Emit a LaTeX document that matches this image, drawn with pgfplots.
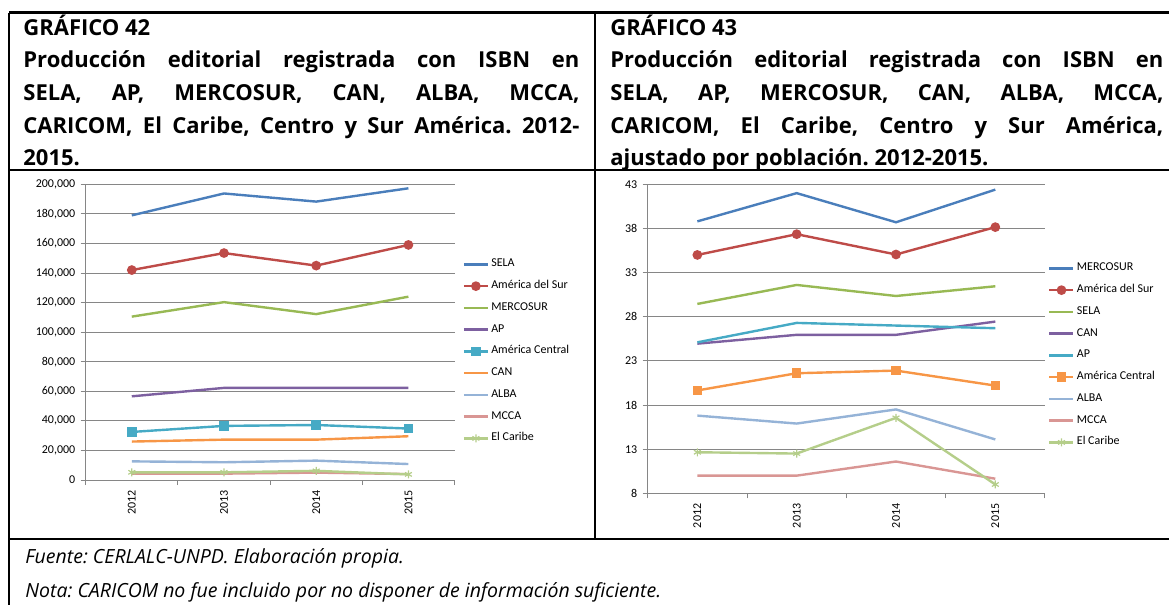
\documentclass[border=0pt]{standalone}
\usepackage{pgfplots}
\pgfplotsset{compat=1.18}
\usepackage{fontspec}
\setmainfont{Carlito}
\newfontfamily\ttl{Open Sans}
\frenchspacing
\definecolor{c1}{HTML}{4A7EBB}
\definecolor{c2}{HTML}{BE4B48}
\definecolor{c3}{HTML}{98B954}
\definecolor{c4}{HTML}{7D60A0}
\definecolor{c5}{HTML}{46AAC5}
\definecolor{c6}{HTML}{F79646}
\definecolor{c7}{HTML}{95B3D7}
\definecolor{c8}{HTML}{D99694}
\definecolor{c9}{HTML}{B5CE8A}
\definecolor{axgray}{HTML}{868686}

\pgfplotsset{
 excel/.style={
  scale only axis,
  axis lines*=left,
  axis line style={draw=axgray, line width=0.5pt},
  ymajorgrids, grid style={draw=axgray, line width=0.5pt},
  tick align=outside, major tick length=2.5pt,
  tick style={draw=axgray, line width=0.5pt},
  xmin=0.5, xmax=4.5,
  xtick={0.5,1.5,2.5,3.5,4.5}, xticklabels={,,,,},
  extra x ticks={1,2,3,4}, extra x tick labels={2012,2013,2014,2015},
  extra x tick style={major tick length=0pt},
  xticklabel style={rotate=90, anchor=east, inner sep=0pt},
  xticklabel shift=5pt,
  yticklabel style={inner sep=0pt},
  /pgf/number format/assume math mode=true,
  tick label style={font=\fontsize{6}{7}\selectfont},
  every axis plot/.append style={line width=1.2pt},
  legend cell align=left,
  legend image code/.code={\draw[mark repeat=2,mark phase=2,#1] plot coordinates {(0pt,0pt) (6pt,0pt) (12pt,0pt)};},
  legend style={draw=none, fill=none, inner sep=0pt, outer sep=0pt,
   font=\fontsize{6}{7}\selectfont, row sep=3.375pt,
   nodes={inner sep=0pt, text height=5pt, text depth=2.5pt},
   /tikz/every odd column/.append style={column sep=1.1pt}},
 },
}

\begin{document}
\begin{tikzpicture}
\begin{scope}[x=0.5pt, y=-0.5pt]
\useasboundingbox (0,0) rectangle (1169,605);
% table frame
\draw[line width=1.25pt] (9,12.7) -- (1169,12.7);
\draw[line width=1.25pt] (9,170) -- (1169,170);
\draw[line width=1.25pt] (9,539) -- (1169,539);
\draw[line width=1.25pt] (9,12.7) -- (9,605);
\draw[line width=1.25pt] (595,12.7) -- (595,539);
% titles
\begin{scope}[every node/.style={anchor=base west, inner sep=0pt, font=\ttl\bfseries\fontsize{11}{13}\selectfont}]
\node at (23,35) {GRÁFICO 42};
\node at (23,68) {\makebox[278pt][s]{Producción editorial registrada con ISBN en}};
\node at (23,100) {\makebox[278pt][s]{SELA, AP, MERCOSUR, CAN, ALBA, MCCA,}};
\node at (23,133) {\makebox[278pt][s]{CARICOM, El Caribe, Centro y Sur América. 2012-}};
\node at (23,165) {2015.};
\node at (610,35) {GRÁFICO 43};
\node at (610,68) {\makebox[276.5pt][s]{Producción editorial registrada con ISBN en}};
\node at (610,100) {\makebox[276.5pt][s]{SELA, AP, MERCOSUR, CAN, ALBA, MCCA,}};
\node at (610,133) {\makebox[276.5pt][s]{CARICOM, El Caribe, Centro y Sur América,}};
\node at (610,165) {ajustado por población. 2012-2015.};
\end{scope}
% notes
\begin{scope}[every node/.style={anchor=base west, inner sep=0pt, font=\ttl\itshape\fontsize{9.75}{12}\selectfont}]
\node at (25,563) {Fuente: CERLALC-UNPD. Elaboración propia.};
\node at (25,597) {Nota: CARICOM no fue incluido por no disponer de información suficiente.};
\end{scope}
\end{scope}

% Grafico 42
\begin{axis}[excel,
 at={(42.85pt,-240pt)}, anchor=south west,
 width=184.4pt, height=147.85pt,
 ymin=0, ymax=200000, ytick={0,20000,...,200000},
 scaled y ticks=false, yticklabel shift=2.5pt,
 yticklabel style={/pgf/number format/.cd, fixed, 1000 sep={,}},
 legend style={at={(1,1)}, anchor=north west, xshift=4.1pt, yshift=-36.3pt},
]
\addplot[c1, mark=none] coordinates {(1,179000) (2,193800) (3,188300) (4,197300)};
\addlegendentry{SELA}
\addplot[c2, mark=*, mark size=1.8pt, mark options={fill=c2}] coordinates {(1,142000) (2,153500) (3,145000) (4,159000)};
\addlegendentry{América del Sur}
\addplot[c3, mark=none] coordinates {(1,110500) (2,120300) (3,112200) (4,124000)};
\addlegendentry{MERCOSUR}
\addplot[c4, mark=none] coordinates {(1,56600) (2,62300) (3,62300) (4,62300)};
\addlegendentry{AP}
\addplot[c5, mark=square*, mark size=1.8pt, mark options={fill=c5}] coordinates {(1,32500) (2,36600) (3,37200) (4,34800)};
\addlegendentry{América Central}
\addplot[c6, mark=none] coordinates {(1,26000) (2,27300) (3,27300) (4,29600)};
\addlegendentry{CAN}
\addplot[c7, mark=none] coordinates {(1,12600) (2,12000) (3,13100) (4,10800)};
\addlegendentry{ALBA}
\addplot[c8, mark=none] coordinates {(1,4300) (2,4300) (3,5000) (4,4000)};
\addlegendentry{MCCA}
\addplot[c9, mark=asterisk, mark size=2pt, mark options={line width=0.6pt}] coordinates {(1,5200) (2,5200) (3,6200) (4,3800)};
\addlegendentry{El Caribe}
\end{axis}

% Grafico 43
\begin{axis}[excel,
 at={(323.85pt,-246.65pt)}, anchor=south west,
 width=198.65pt, height=154.5pt,
 ymin=8, ymax=43, ytick={8,13,...,43}, yticklabel shift=2.5pt,
 legend style={at={(1,1)}, anchor=north west, xshift=1.65pt, yshift=-38.3pt},
]
\addplot[c1, mark=none] coordinates {(1,38.8) (2,42.0) (3,38.7) (4,42.4)};
\addlegendentry{MERCOSUR}
\addplot[c2, mark=*, mark size=1.8pt, mark options={fill=c2}] coordinates {(1,35.0) (2,37.35) (3,35.05) (4,38.15)};
\addlegendentry{América del Sur}
\addplot[c3, mark=none] coordinates {(1,29.45) (2,31.6) (3,30.35) (4,31.45)};
\addlegendentry{SELA}
\addplot[c4, mark=none] coordinates {(1,24.95) (2,25.95) (3,25.95) (4,27.45)};
\addlegendentry{CAN}
\addplot[c5, mark=none] coordinates {(1,25.1) (2,27.3) (3,27.0) (4,26.7)};
\addlegendentry{AP}
\addplot[c6, mark=square*, mark size=1.8pt, mark options={fill=c6}] coordinates {(1,19.65) (2,21.6) (3,21.9) (4,20.2)};
\addlegendentry{América Central}
\addplot[c7, mark=none] coordinates {(1,16.8) (2,15.9) (3,17.5) (4,14.1)};
\addlegendentry{ALBA}
\addplot[c8, mark=none] coordinates {(1,10.0) (2,10.0) (3,11.6) (4,9.65)};
\addlegendentry{MCCA}
\addplot[c9, mark=asterisk, mark size=2pt, mark options={line width=0.6pt}] coordinates {(1,12.65) (2,12.5) (3,16.55) (4,9.0)};
\addlegendentry{El Caribe}
\end{axis}
\end{tikzpicture}
\end{document}
